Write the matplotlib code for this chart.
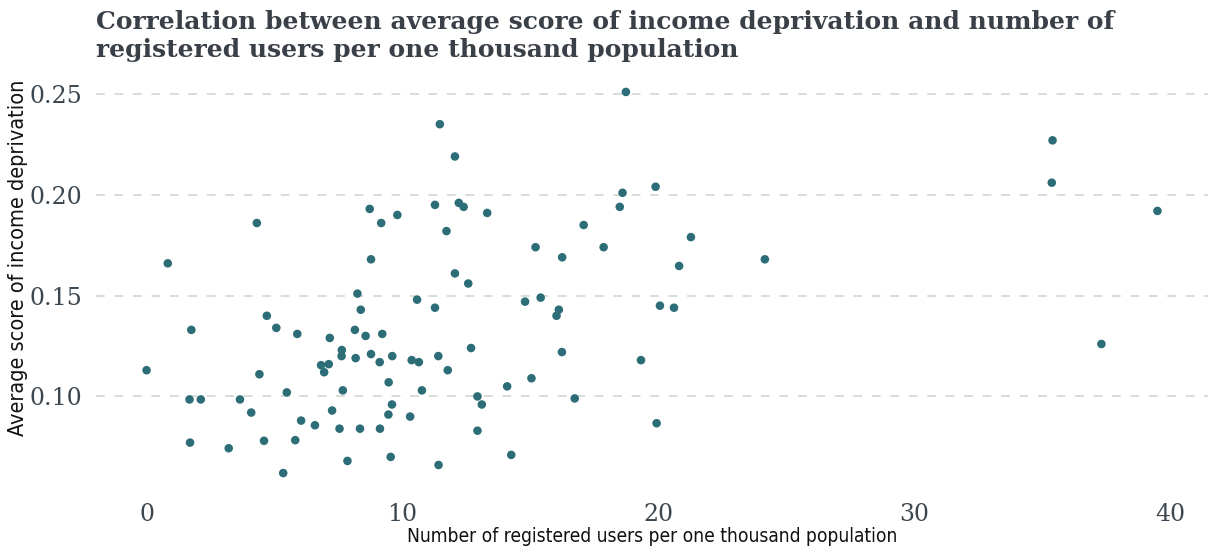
import matplotlib
matplotlib.use("Agg")
import matplotlib.pyplot as plt

users_per_thousand = [
    11.46, 8.72, 9.17, 9.80, 11.27, 11.72, 4.31, 0.83, 8.77, 8.24,
    8.37, 10.57, 11.27, 1.75, 4.70, 5.07, 5.89, 7.16, 8.14, 8.56,
    9.21, 7.63, 7.62, 8.17, 8.77, 9.11, 9.60, 10.36, 10.64, 11.40,
    11.77, 0.00, 6.82, 7.12, 6.94, 4.41, 9.46, 7.67, 10.76, 5.48,
    1.68, 2.12, 3.65, 9.59, 4.09, 7.25, 9.45, 10.30, 6.04, 6.58,
    7.54, 8.34, 9.12, 1.70, 4.59, 5.81, 3.21, 7.85, 9.54, 11.41,
    5.34,
    18.73, 12.05, 19.89, 18.60, 18.49, 12.20, 12.39, 13.31, 17.08, 21.27,
    15.20, 17.86, 16.24, 24.16, 20.81, 12.05, 12.57, 14.79, 15.40, 16.11,
    16.02, 20.06, 20.61, 12.68, 16.23, 19.32, 15.04, 14.09, 12.93, 13.10,
    16.73, 12.93, 19.93, 14.25,
    35.40, 35.37, 39.50, 37.31,
]
income_deprivation = [
    0.235, 0.193, 0.186, 0.190, 0.195, 0.182, 0.186, 0.166, 0.168, 0.151,
    0.143, 0.148, 0.144, 0.133, 0.140, 0.134, 0.131, 0.129, 0.133, 0.130,
    0.131, 0.123, 0.120, 0.119, 0.121, 0.117, 0.120, 0.118, 0.117, 0.120,
    0.113, 0.113, 0.1155, 0.116, 0.112, 0.111, 0.107, 0.103, 0.103, 0.102,
    0.0985, 0.0985, 0.0985, 0.096, 0.092, 0.093, 0.091, 0.090, 0.088, 0.0857,
    0.084, 0.084, 0.084, 0.0771, 0.078, 0.0783, 0.0743, 0.068, 0.070, 0.066,
    0.062,
    0.251, 0.219, 0.204, 0.201, 0.194, 0.196, 0.194, 0.191, 0.185, 0.179,
    0.174, 0.174, 0.169, 0.168, 0.1647, 0.161, 0.156, 0.147, 0.149, 0.143,
    0.140, 0.145, 0.144, 0.124, 0.122, 0.118, 0.109, 0.105, 0.100, 0.096,
    0.099, 0.083, 0.0867, 0.071,
    0.227, 0.206, 0.192, 0.126,
]
x_ticks = [0, 10, 20, 30, 40]
y_ticks = [0.10, 0.15, 0.20, 0.25]
y_tick_labels = ["0.10", "0.15", "0.20", "0.25"]

title = ("Correlation between average score of income deprivation and number of\n"
         "registered users per one thousand population")
x_label = "Number of registered users per one thousand population"
y_label = "Average score of income deprivation"

fig = plt.figure(figsize=(12.08, 5.54), dpi=100)
ax = fig.add_axes([96 / 1208, 1 - 492 / 554, (1208 - 96) / 1208, (492 - 73) / 554])

ax.scatter(users_per_thousand, income_deprivation, s=38, color="#2d6d77",
           edgecolors="none", zorder=3)

ax.set_xlim(-1.975, 41.475)
ax.set_ylim(0.0526, 0.2604)
ax.set_xticks(x_ticks)
ax.set_xticklabels([str(t) for t in x_ticks])
ax.set_yticks(y_ticks)
ax.set_yticklabels(y_tick_labels)

for s in ax.spines.values():
    s.set_visible(False)
ax.tick_params(axis="both", length=0, labelsize=17, labelcolor="#3b4750")
ax.tick_params(axis="y", pad=10)
ax.tick_params(axis="x", pad=8)
for lab in ax.get_xticklabels() + ax.get_yticklabels():
    lab.set_family("DejaVu Serif")

ax.yaxis.grid(True, color="#d6ddd6", linestyle=(0, (4.5, 5)), linewidth=1.4)
ax.xaxis.grid(False)
ax.set_axisbelow(True)

ax.set_xlabel(x_label, family="DejaVu Sans", fontstretch="condensed",
              fontsize=13.8, color="#111111", labelpad=1)
ax.set_ylabel(y_label, family="DejaVu Sans", fontstretch="condensed",
              fontsize=15.5, color="#111111")
ax.yaxis.set_label_coords(-0.0612, 0.56)

fig.text(96 / 1208, 1 - 10 / 554, title, family="DejaVu Serif", fontweight="bold",
         fontsize=18, color="#3a4048", va="top", ha="left", linespacing=1.2)

fig.savefig("out.png", dpi=100)
